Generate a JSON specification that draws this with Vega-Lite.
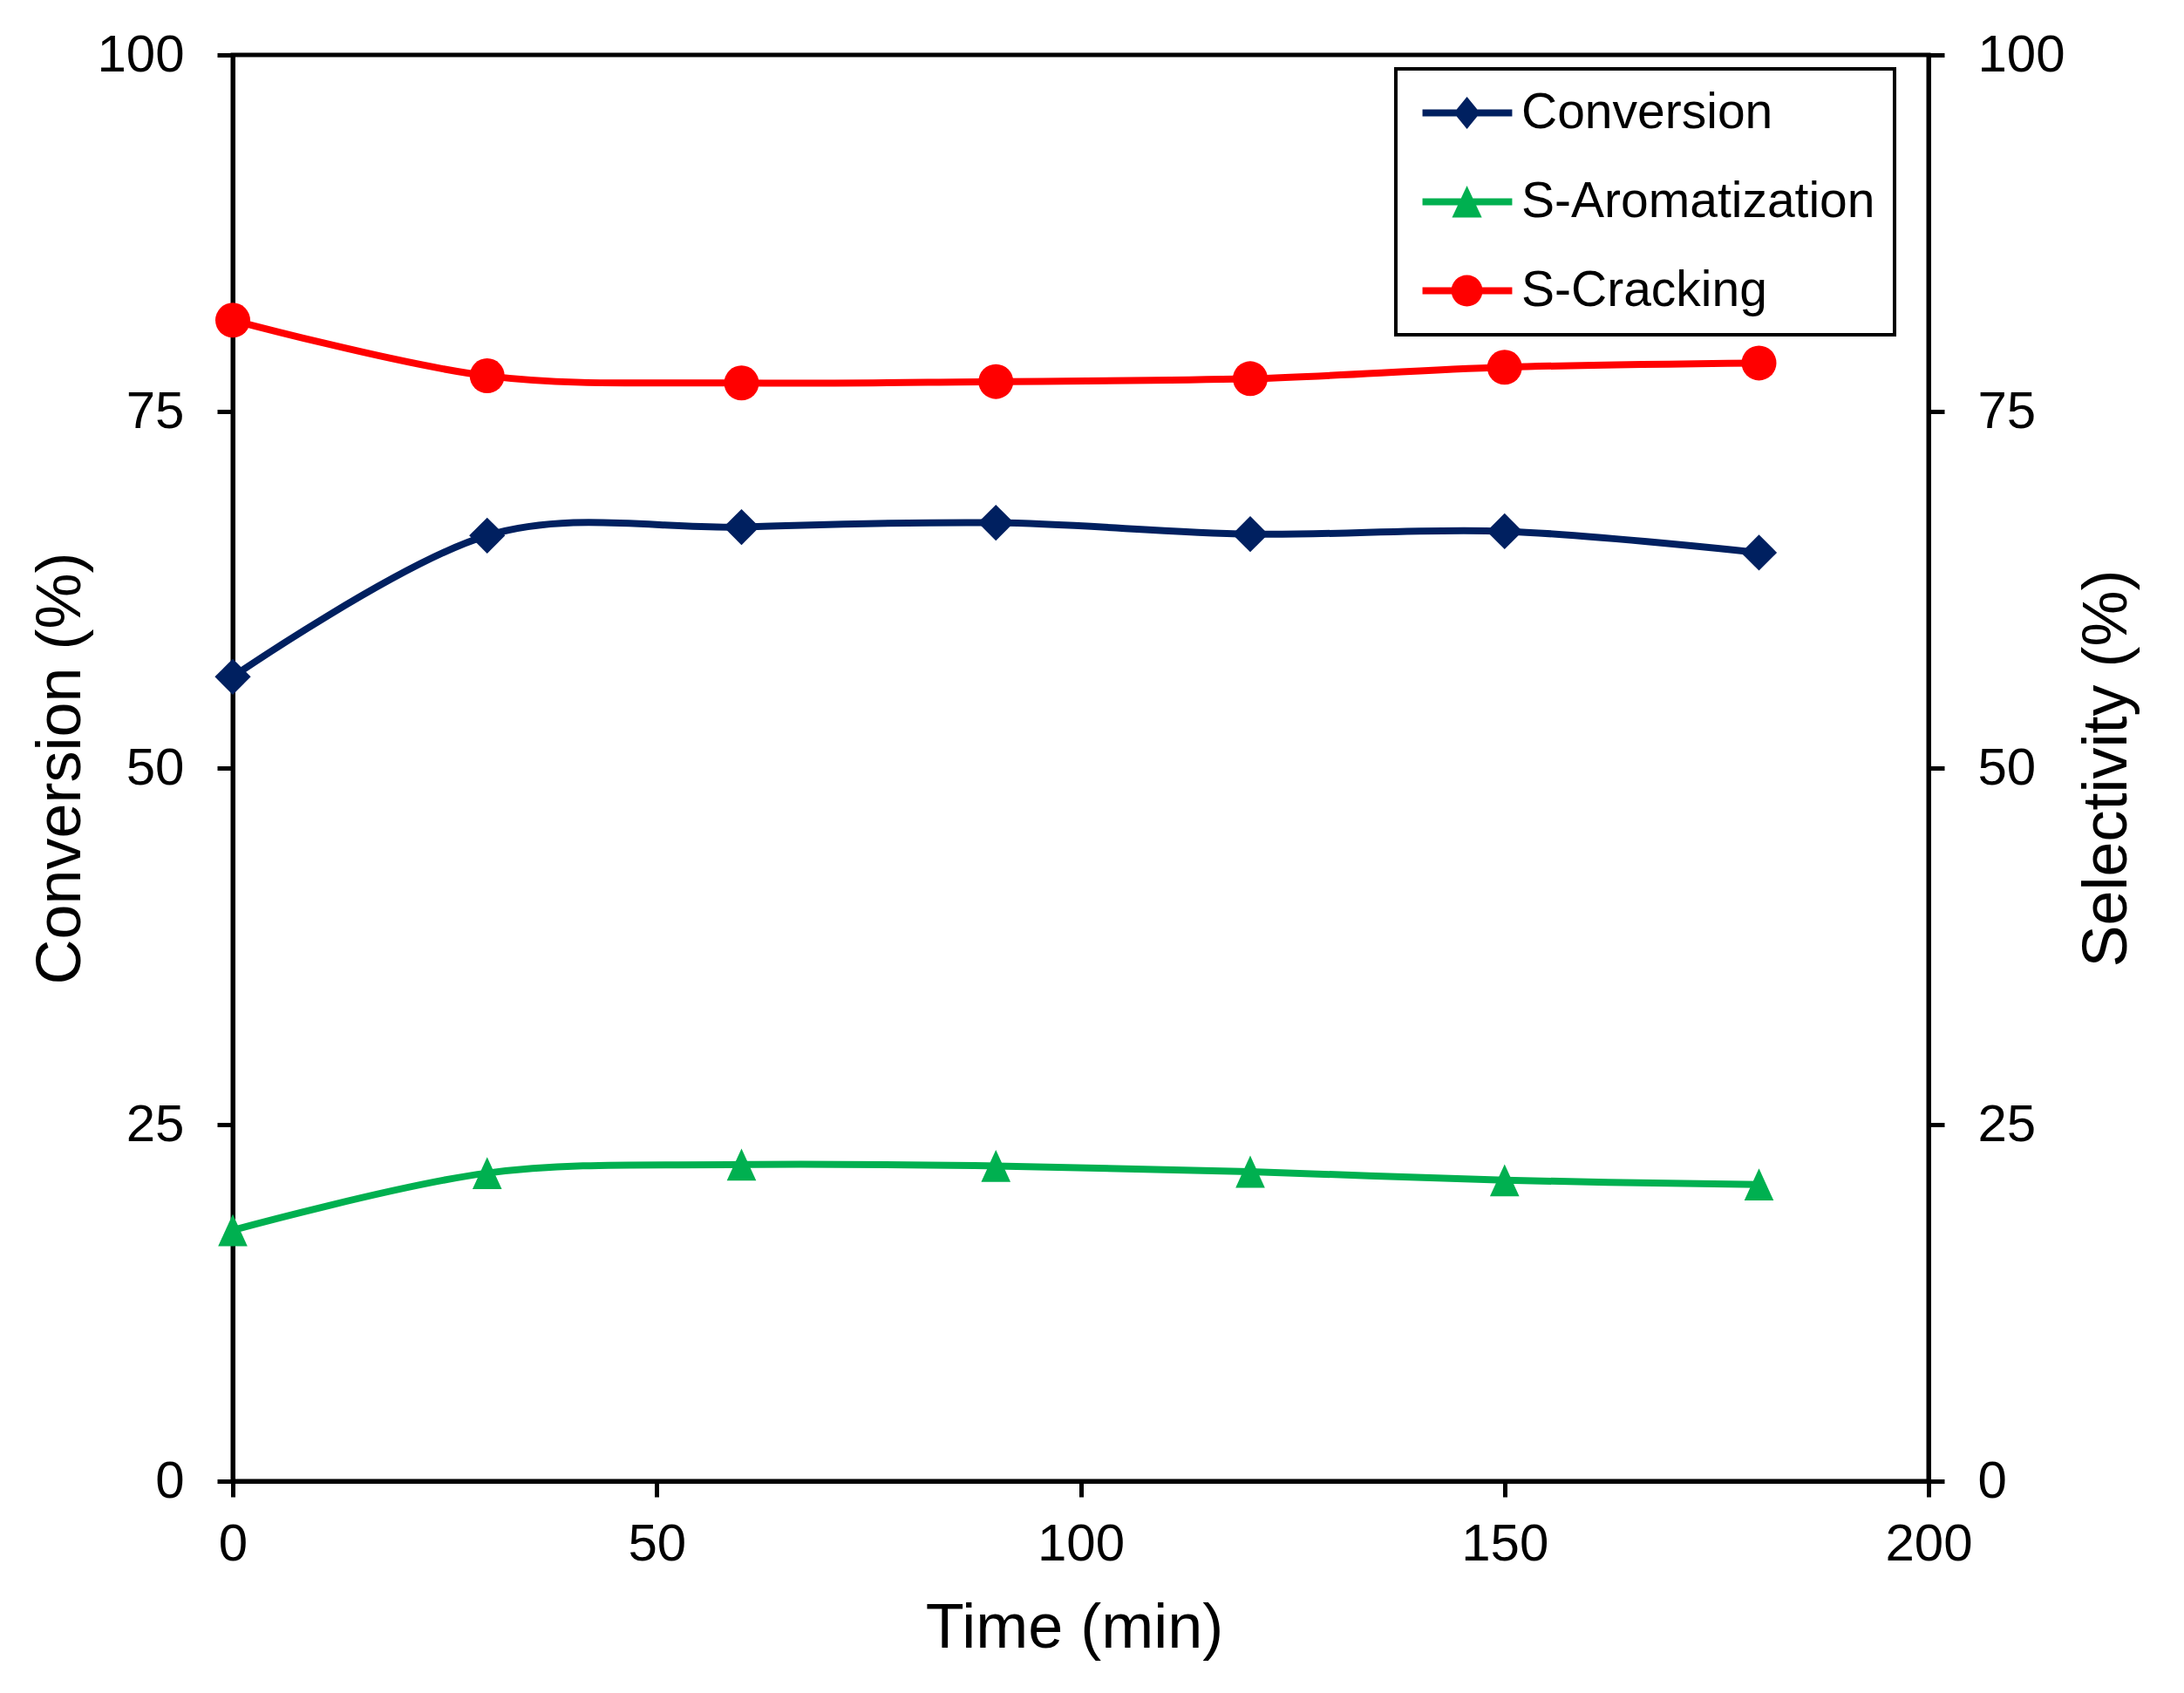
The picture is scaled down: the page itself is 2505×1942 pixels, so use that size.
{
  "$schema": "https://vega.github.io/schema/vega-lite/v6.json",
  "autosize": {"type": "none"},
  "padding": {"left": 267, "top": 63, "right": 293, "bottom": 243},
  "width": 1945,
  "height": 1636,
  "data": {
    "values": [
      {"t": 0, "series": "Conversion", "value": 56.4},
      {"t": 30, "series": "Conversion", "value": 66.3},
      {"t": 60, "series": "Conversion", "value": 66.9},
      {"t": 90, "series": "Conversion", "value": 67.2},
      {"t": 120, "series": "Conversion", "value": 66.4},
      {"t": 150, "series": "Conversion", "value": 66.6},
      {"t": 180, "series": "Conversion", "value": 65.1},
      {"t": 0, "series": "S-Aromatization", "value": 17.6},
      {"t": 30, "series": "S-Aromatization", "value": 21.6},
      {"t": 60, "series": "S-Aromatization", "value": 22.2},
      {"t": 90, "series": "S-Aromatization", "value": 22.1},
      {"t": 120, "series": "S-Aromatization", "value": 21.7},
      {"t": 150, "series": "S-Aromatization", "value": 21.1},
      {"t": 180, "series": "S-Aromatization", "value": 20.8},
      {"t": 0, "series": "S-Cracking", "value": 81.4},
      {"t": 30, "series": "S-Cracking", "value": 77.5},
      {"t": 60, "series": "S-Cracking", "value": 77.0},
      {"t": 90, "series": "S-Cracking", "value": 77.1},
      {"t": 120, "series": "S-Cracking", "value": 77.3},
      {"t": 150, "series": "S-Cracking", "value": 78.1},
      {"t": 180, "series": "S-Cracking", "value": 78.4}
    ]
  },
  "encoding": {
    "x": {
      "field": "t",
      "type": "quantitative",
      "scale": {"domain": [0, 200], "nice": false},
      "axis": {
        "title": "Time (min)",
        "values": [0, 50, 100, 150, 200],
        "labelPadding": 25,
        "labelFlush": false,
        "labelOverlap": false,
        "titleX": 965,
        "titleY": 168,
        "titleBaseline": "middle"
      }
    },
    "color": {
      "field": "series",
      "type": "nominal",
      "scale": {
        "domain": ["Conversion", "S-Aromatization", "S-Cracking"],
        "range": ["#002060", "#00B050", "#FF0000"]
      },
      "legend": {
        "title": null,
        "orient": "none",
        "legendX": 1334,
        "legendY": 16,
        "labelFont": "Liberation Sans",
        "labelFontSize": 57,
        "labelColor": "black",
        "labelOffset": 65,
        "labelLimit": 1000,
        "symbolSize": 3249,
        "symbolStrokeWidth": 0,
        "rowPadding": 44,
        "encode": {
          "symbols": {
            "update": {
              "shape": {"signal": "datum.value === 'Conversion' ? 'M-0.7,-0.14H2.91V0.14H-0.7Z M1.09,-0.65L1.62,0L1.09,0.65L0.56,0Z' : datum.value === 'S-Aromatization' ? 'M-0.7,-0.14H2.91V0.14H-0.7Z M1.09,-0.65L1.69,0.63L0.49,0.63Z' : 'M-0.7,-0.14H2.91V0.14H-0.7Z M0.46,0A0.63,0.63 0 1,1 1.72,0A0.63,0.63 0 1,1 0.46,0Z'"},
              "fill": {"signal": "scale('color', datum.value)"},
              "stroke": {"value": "transparent"},
              "strokeWidth": {"value": 0},
              "size": {"value": 3249},
              "opacity": {"value": 1}
            }
          }
        }
      }
    }
  },
  "layer": [
    {
      "transform": [{"filter": "datum.series === 'Conversion'"}],
      "encoding": {
        "y": {
          "field": "value",
          "type": "quantitative",
          "scale": {"domain": [0, 100], "nice": false},
          "axis": {
            "title": "Conversion (%)",
            "orient": "left",
            "values": [0, 25, 50, 75, 100],
            "labelPadding": 38,
            "titleAngle": 270,
            "titleX": -198,
            "titleY": 818,
            "titleBaseline": "middle",
            "titleAlign": "center"
          }
        }
      },
      "layer": [
        {"mark": {"type": "line", "interpolate": "cardinal", "strokeWidth": 8}},
        {"mark": {"type": "point", "shape": "diamond", "filled": true, "opacity": 1, "size": 1700, "strokeWidth": 0}}
      ]
    },
    {
      "transform": [{"filter": "datum.series !== 'Conversion'"}],
      "encoding": {
        "y": {
          "field": "value",
          "type": "quantitative",
          "scale": {"domain": [0, 100], "nice": false},
          "axis": {
            "title": "Selectivity (%)",
            "orient": "right",
            "values": [0, 25, 50, 75, 100],
            "labelPadding": 38,
            "titleAngle": 270,
            "titleX": 204,
            "titleY": 818,
            "titleBaseline": "middle",
            "titleAlign": "center"
          }
        }
      },
      "layer": [
        {"mark": {"type": "line", "interpolate": "cardinal", "strokeWidth": 8}},
        {
          "transform": [{"filter": "datum.series === 'S-Aromatization'"}],
          "mark": {"type": "point", "shape": "M0,-0.92L0.84,0.92L-0.84,0.92Z", "filled": true, "opacity": 1, "size": 1600, "strokeWidth": 0}
        },
        {
          "transform": [{"filter": "datum.series === 'S-Cracking'"}],
          "mark": {"type": "point", "shape": "circle", "filled": true, "opacity": 1, "size": 1600, "strokeWidth": 0}
        }
      ]
    }
  ],
  "resolve": {"scale": {"y": "independent"}},
  "config": {
    "font": "Liberation Sans",
    "view": {"stroke": "black", "strokeWidth": 5},
    "legend": {
      "padding": 22,
      "strokeColor": "black",
      "strokeWidth": 4,
      "fillColor": "white"
    },
    "axis": {
      "grid": false,
      "domainColor": "black",
      "domainWidth": 5,
      "tickColor": "black",
      "tickWidth": 5,
      "tickSize": 18,
      "labelFont": "Liberation Sans",
      "labelFontSize": 60,
      "labelColor": "black",
      "titleFont": "Liberation Sans",
      "titleFontSize": 72,
      "titleFontWeight": "normal",
      "titleColor": "black"
    }
  }
}
